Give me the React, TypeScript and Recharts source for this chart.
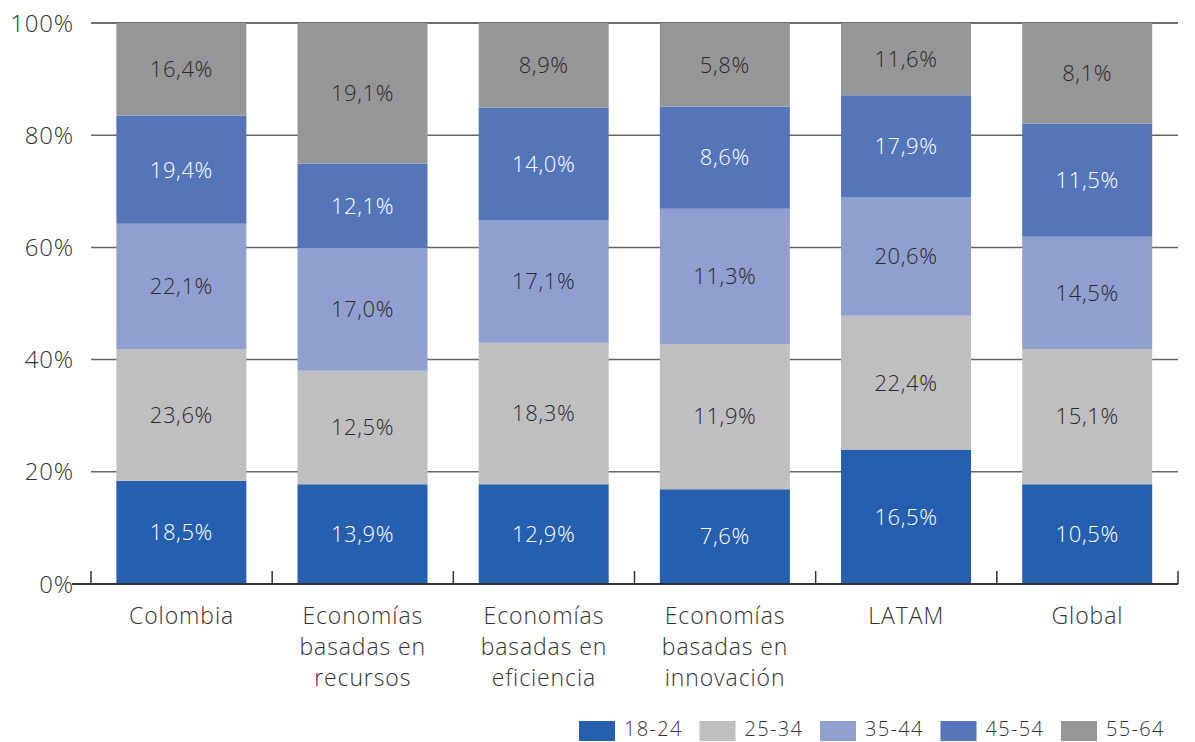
import { BarChart, Bar, XAxis, YAxis, CartesianGrid, LabelList } from "recharts"

// categories on the x axis (line breaks as in the source)
const categories = [
    "Colombia",
    "Economías\nbasadas en\nrecursos",
    "Economías\nbasadas en\neficiencia",
    "Economías\nbasadas en\ninnovación",
    "LATAM",
    "Global",
]

const ageGroups = ["18-24", "25-34", "35-44", "45-54", "55-64"]
const colors = ["#265fae", "#bfbfc1", "#909fd0", "#5575b9", "#969698"]
const labelColors = ["#ffffff", "#2a2a2a", "#2a2a2a", "#ffffff", "#2a2a2a"]

// segment heights as drawn (share of the bar, %)
const share1824 = [18.4, 17.8, 17.8, 16.9, 23.9, 17.8]
const share2534 = [23.5, 20.2, 25.2, 25.9, 23.9, 24.1]
const share3544 = [22.3, 21.9, 21.9, 24.1, 21.1, 20.0]
const share4554 = [19.3, 15.0, 20.0, 18.2, 18.2, 20.2]
const share5564 = [16.5, 25.1, 15.1, 14.9, 12.9, 17.9]

// values printed on the segments
const label1824 = [18.5, 13.9, 12.9, 7.6, 16.5, 10.5]
const label2534 = [23.6, 12.5, 18.3, 11.9, 22.4, 15.1]
const label3544 = [22.1, 17.0, 17.1, 11.3, 20.6, 14.5]
const label4554 = [19.4, 12.1, 14.0, 8.6, 17.9, 11.5]
const label5564 = [16.4, 19.1, 8.9, 5.8, 11.6, 8.1]

const yTicks = [0, 20, 40, 60, 80, 100]

const shares = [share1824, share2534, share3544, share4554, share5564]
const labels = [label1824, label2534, label3544, label4554, label5564]

const data = categories.map((name, i) => {
    const row: Record<string, string | number> = { name }
    ageGroups.forEach((g, k) => {
        row[`s${k}`] = shares[k][i]
        row[`l${k}`] = labels[k][i]
    })
    return row
})

const W = 1195
const H = 742
const PLOT_LEFT = 91
const PLOT_RIGHT = 1178
const BAND = (PLOT_RIGHT - PLOT_LEFT) / categories.length
const FONT = "'Open Sans', sans-serif"

const fmt = (v: any) => `${Number(v).toFixed(1).replace(".", ",")}%`

function XTick(props: any) {
    const { x, y, payload, index } = props
    const lines = String(payload.value).split("\n")
    const left = x - BAND / 2
    return (
        <g>
            <line x1={left} x2={left} y1={y - 13} y2={y} stroke="#333" strokeWidth={1.5} />
            {index === categories.length - 1 && (
                <line x1={x + BAND / 2} x2={x + BAND / 2} y1={y - 13} y2={y} stroke="#333" strokeWidth={1.5} />
            )}
            {index === 0 && <line x1={72} x2={left} y1={y} y2={y} stroke="#333" strokeWidth={2} />}
            <text x={x} y={y + 40} textAnchor="middle" fontSize={23} letterSpacing={0.9} fill="#333" fontFamily={FONT} fontWeight={300}>
                {lines.map((l, i) => (
                    <tspan key={i} x={x} dy={i === 0 ? 0 : 31}>{l}</tspan>
                ))}
            </text>
        </g>
    )
}

function YTick(props: any) {
    const { y, payload } = props
    return (
        <text x={74} y={y} dy="0.36em" textAnchor="end" fontSize={24} letterSpacing={0.8} fill="#333" fontFamily={FONT} fontWeight={300}>
            {payload.value}%
        </text>
    )
}

// legend drawn as svg so glyphs are not boxed by html line boxes
function Legend() {
    const step = 120.5
    return (
        <svg width={620} height={26} style={{ position: "absolute", left: 579, top: 715 }}>
            {ageGroups.map((g, k) => (
                <g key={g} transform={`translate(${k * step},0)`}>
                    <rect x={0} y={6} width={36} height={20} fill={colors[k]} />
                    <text x={45} y={14} dy="0.36em" fontSize={20} letterSpacing={1.3} fill="#333" fontFamily={FONT} fontWeight={300}>
                        {g}
                    </text>
                </g>
            ))}
        </svg>
    )
}

export default function App() {
    return (
        <div style={{ position: "relative", width: W, height: H, background: "#fff", overflow: "hidden" }}>
            <style>{`body{margin:0}`}</style>
            <BarChart
                width={W}
                height={H}
                data={data}
                margin={{ top: 23, right: W - PLOT_RIGHT, bottom: 0, left: 0 }}
                barCategoryGap="14%"
            >
                <CartesianGrid vertical={false} stroke="#666" strokeWidth={1.5} />
                <XAxis
                    dataKey="name"
                    height={H - 584}
                    interval={0}
                    tickSize={0}
                    tickMargin={0}
                    tickLine={false}
                    axisLine={{ stroke: "#333", strokeWidth: 2 }}
                    tick={<XTick />}
                />
                <YAxis
                    width={PLOT_LEFT}
                    domain={[0, 100]}
                    ticks={yTicks}
                    axisLine={false}
                    tickLine={false}
                    tick={<YTick />}
                />
                {ageGroups.map((g, k) => (
                    <Bar key={g} dataKey={`s${k}`} name={g} stackId="a" fill={colors[k]} isAnimationActive={false}>
                        <LabelList
                            dataKey={`l${k}`}
                            position="center"
                            formatter={fmt}
                            fill={labelColors[k]}
                            fontSize={22}
                            letterSpacing={0.6}
                            fontFamily={FONT}
                            fontWeight={300}
                        />
                    </Bar>
                ))}
            </BarChart>
            <Legend />
        </div>
    )
}
